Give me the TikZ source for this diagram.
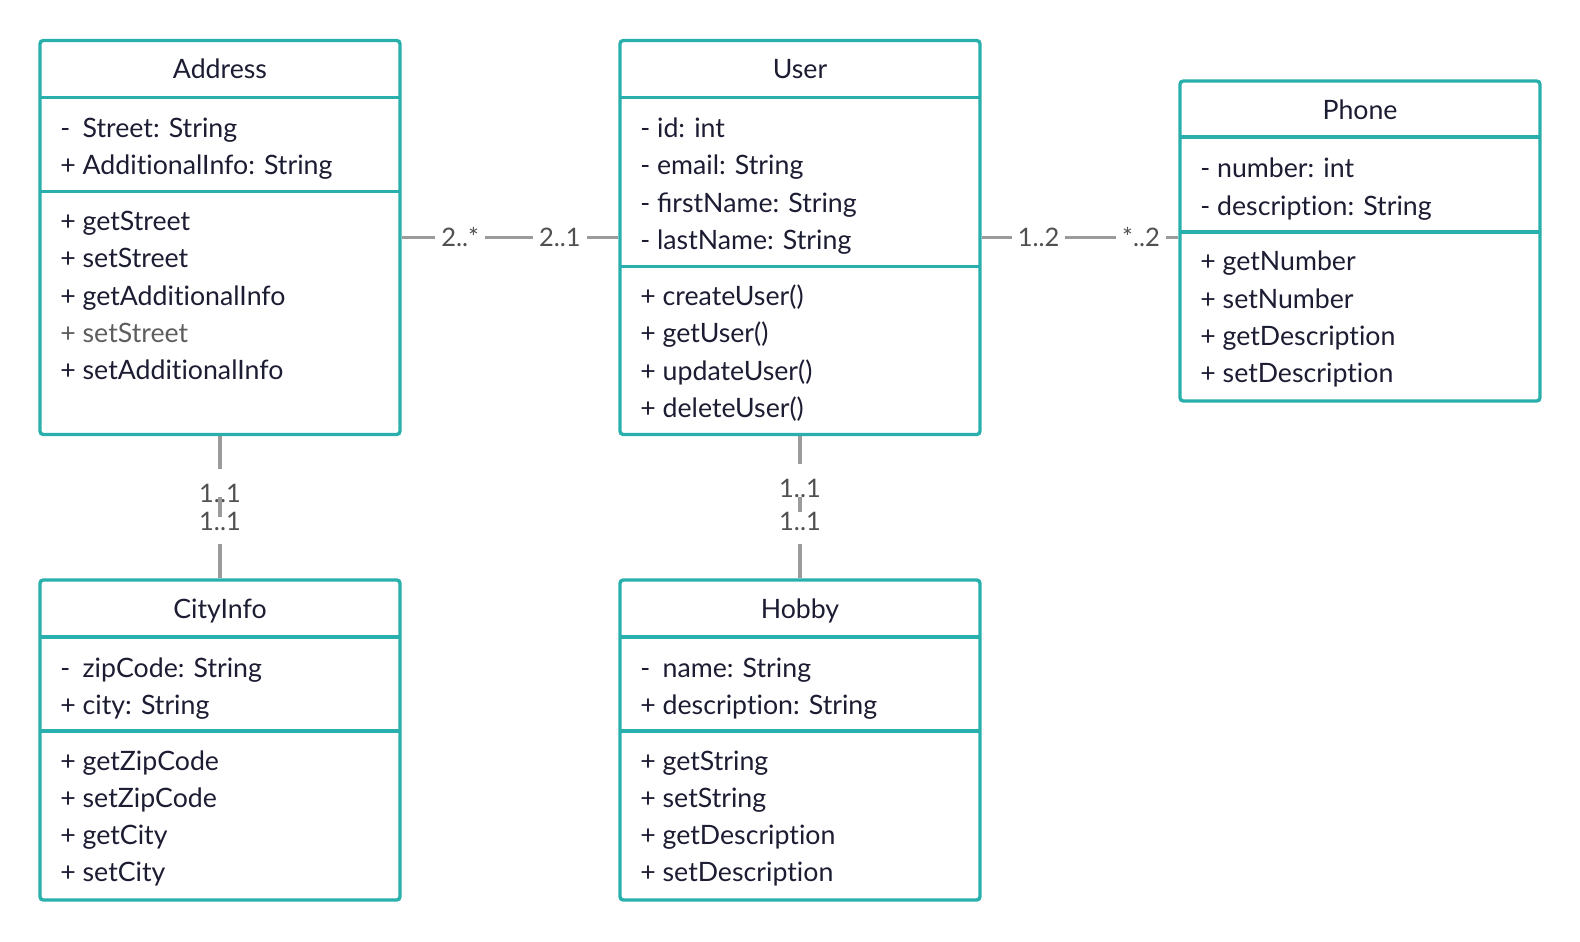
\documentclass[tikz,border=0pt]{standalone}
\usepackage{fontspec}
\setmainfont{Lato}[Ligatures=NoCommon]
\definecolor{umlteal}{HTML}{2AB0AC}
\definecolor{umlink}{HTML}{1C1C33}
\definecolor{umlfade}{HTML}{5E5E5E}
\definecolor{lnkgray}{HTML}{9B9B9B}
\definecolor{lblgray}{HTML}{505050}
\newcommand\pvt{\rlap{-}\phantom{+}}
\tikzset{
  cls/.style={draw=umlteal, line width=1.9pt, rounded corners=1.8pt, minimum width=7.2cm, inner sep=0pt},
  sep/.style={draw=umlteal, line width=1.9pt},
  ttl/.style={anchor=base, inner sep=0pt, text=umlink, font=\fontsize{15.2}{19}\selectfont},
  row/.style={anchor=base west, inner sep=0pt, text=umlink, font=\fontsize{15.2}{19}\selectfont},
  conn/.style={draw=lnkgray, line width=2.1pt},
  lbl/.style={fill=white, text=lblgray, inner xsep=3.4pt, inner ysep=8.5pt, font=\fontsize{14.5}{17}\selectfont},
  lblup/.style={lbl, anchor=base, inner ysep=1pt, text height=18.4pt, text depth=0pt},
  lbldn/.style={lbl, anchor=base, inner ysep=1pt, text height=10.4pt, text depth=7pt},
}
\begin{document}
\begin{tikzpicture}[x=0.02cm, y=-0.02cm]
\useasboundingbox (0,0) rectangle (1580,942);
% class boxes
\node[cls, minimum height=7.88cm] (address) at (220,237.5) {};
\node[cls, minimum height=7.88cm] (user) at (800,237.5) {};
\node[cls, minimum height=6.4cm] (phone) at (1360,241) {};
\node[cls, minimum height=6.4cm] (cityinfo) at (220,740) {};
\node[cls, minimum height=6.4cm] (hobby) at (800,740) {};
% compartments
\draw[sep] (40,97.5) -- (400,97.5) (40,191.5) -- (400,191.5);
\draw[sep] (620,97.5) -- (980,97.5) (620,266.5) -- (980,266.5);
\draw[sep] (1180,137) -- (1540,137) (1180,232) -- (1540,232);
\draw[sep] (40,637) -- (400,637) (40,731) -- (400,731);
\draw[sep] (620,637) -- (980,637) (620,731) -- (980,731);
% titles
\node[ttl] (addresst) at (220,79) {Address};
\node[ttl] (usert) at (800,79) {User};
\node[ttl] (phonet) at (1360,119.5) {Phone};
\node[ttl] (cityinfot) at (220,618.5) {CityInfo};
\node[ttl] (hobbyt) at (800,618.5) {Hobby};
% Address
\foreach \t [count=\i from 0] in {{\pvt{} Street: String},{+ AdditionalInfo: String}}
  \node[row] (ada\i) at (60,{137.5+37.5*\i}) {\t};
\foreach \t [count=\i from 0] in {{+ getStreet},{+ setStreet},{+ getAdditionalInfo},{\color{umlfade}+ setStreet},{+ setAdditionalInfo}}
  \node[row] (adm\i) at (60,{230.5+37.3*\i}) {\t};
% User
\foreach \t [count=\i from 0] in {{- id: int},{- email: String},{- ﬁrstName: String},{- lastName: String}}
  \node[row] (usa\i) at (640,{137.5+37.5*\i}) {\t};
\foreach \t [count=\i from 0] in {{+ createUser()},{+ getUser()},{+ updateUser()},{+ deleteUser()}}
  \node[row] (usm\i) at (640,{305.5+37.3*\i}) {\t};
% Phone
\foreach \t [count=\i from 0] in {{- number: int},{- description: String}}
  \node[row] (pha\i) at (1200,{178+37.5*\i}) {\t};
\foreach \t [count=\i from 0] in {{+ getNumber},{+ setNumber},{+ getDescription},{+ setDescription}}
  \node[row] (phm\i) at (1200,{271+37.3*\i}) {\t};
% CityInfo
\foreach \t [count=\i from 0] in {{\pvt{} zipCode: String},{+ city: String}}
  \node[row] (cia\i) at (60,{677+37.5*\i}) {\t};
\foreach \t [count=\i from 0] in {{+ getZipCode},{+ setZipCode},{+ getCity},{+ setCity}}
  \node[row] (cim\i) at (60,{770+37.3*\i}) {\t};
% Hobby
\foreach \t [count=\i from 0] in {{\pvt{} name: String},{+ description: String}}
  \node[row] (hba\i) at (640,{677+37.5*\i}) {\t};
\foreach \t [count=\i from 0] in {{+ getString},{+ setString},{+ getDescription},{+ setDescription}}
  \node[row] (hbm\i) at (640,{770+37.3*\i}) {\t};
% associations
\draw[conn] (address) -- node[lbl,pos=0.27] (adu1) {2..*} node[lbl,pos=0.73] (adu2) {2..1} (user);
\draw[conn] (user.east) -- node[lbl,pos=0.29] (uph1) {1..2} node[lbl,pos=0.81] (uph2) {*..2} (user.east -| phone.west);
\draw[conn] (address) -- node[lblup,pos=0.47] (adc1) {1..1} node[lbldn,pos=0.66] (adc2) {1..1} (cityinfo);
\draw[conn] ([yshift=3.4pt]adc1.base) -- ([yshift=7.4pt]adc2.base);
\draw[conn] (user) -- node[lblup,pos=0.435] (uhb1) {1..1} node[lbldn,pos=0.66] (uhb2) {1..1} (hobby);
\draw[conn] ([yshift=0.7pt]uhb1.base) -- ([yshift=10.4pt]uhb2.base);
\end{tikzpicture}
\end{document}
